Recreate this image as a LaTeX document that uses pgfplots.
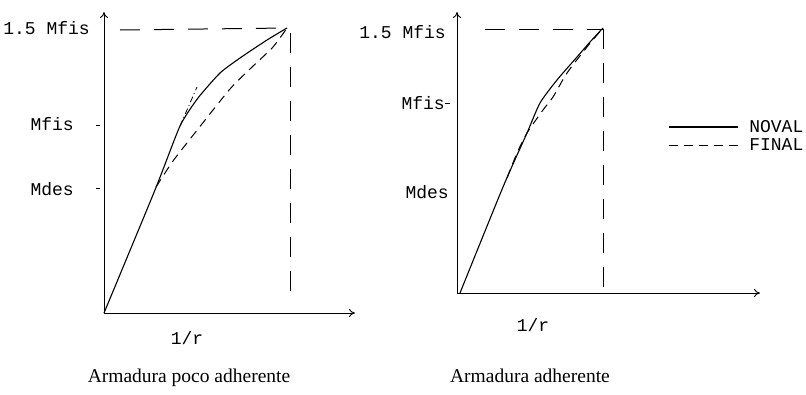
\documentclass[border=0pt]{standalone}
\usepackage{pgfplots}
\pgfplotsset{compat=1.18}
\usetikzlibrary{arrows.meta}
\usepackage{fontspec}
\setmainfont{Liberation Serif}
\setmonofont{Liberation Mono}
\begin{document}
\begin{tikzpicture}
\path[use as bounding box] (0pt,0pt) rectangle (806pt,-394pt);
\pgfplotsset{
  myax/.style={
    anchor=south west, x=1pt, y=1pt, xmin=0, ymin=0,
    axis lines=left, clip=false,
    axis line style={line width=0.9pt, -{To[length=6pt,width=8pt]}},
    xtick=\empty, ytick=\empty,
  },
  sol/.style={black, line width=1.1pt},
  das/.style={black, line width=1.0pt, dash pattern=on 9pt off 6pt},
  ref/.style={black, line width=1.0pt, dash pattern=on 20pt off 14pt},
  tk/.style={black, line width=1.0pt},
}
% Left panel
\begin{axis}[myax, at={(104pt,-313pt)}, xmax=251, ymax=301]
\addplot[sol, smooth, tension=0.35] coordinates {(0,0)(51,123)(76,187)(94,215)(116,240)(136,255)(163,273)(183,285)};
\addplot[das, smooth, tension=0.4] coordinates {(52,126)(69,152)(94,184)(126,224)(146,244)(169,266)(183,285)};
\addplot[black, line width=0.8pt, dash pattern=on 6pt off 3pt on 1pt off 3pt] coordinates {(76,187)(93,226)};
\addplot[ref] coordinates {(16,283)(183,285)};
\addplot[ref] coordinates {(186,280)(186,10)};
\addplot[tk] coordinates {(-8,188)(-4,188)};
\addplot[tk] coordinates {(-8,125)(-4,125)};
\end{axis}
% Right panel
\begin{axis}[myax, at={(457pt,-293pt)}, xmax=303, ymax=281,
  legend style={at={(axis cs:211,173)}, anchor=north west, draw=none, fill=none,
    font=\ttfamily\fontsize{18}{18}\selectfont, row sep=5pt, inner sep=0pt,
    nodes={inner sep=0pt},
    /tikz/every odd column/.append style={column sep=11pt}},
  legend cell align=left,
  legend image code/.code={\draw[#1] (0pt,0pt) -- (69pt,0pt);}]
\addplot[sol, smooth, tension=0.4] coordinates {(3,0)(46,106)(70,160)(83,190)(100,213)(120,236)(133,251)(146,265)};
\addplot[das, smooth, tension=0.4] coordinates {(50,115)(60,140)(70,160)(86,183)(96,196)(110,220)(130,246)(146,265)};
\addplot[ref] coordinates {(28,264)(146,264)};
\addplot[ref] coordinates {(146,264)(146,-7)};
\addplot[tk] coordinates {(-12,190)(-7,190)};
\addlegendimage{sol}
\addlegendentry{NOVAL}
\addlegendimage{black, line width=1.0pt, dash pattern=on 10pt off 8pt}
\addlegendentry{FINAL}
\end{axis}
% labels
\begin{scope}[every node/.style={inner sep=0pt, font=\ttfamily\fontsize{18}{18}\selectfont}]
\node[anchor=east] at (90pt,-28pt) {1.5 Mfis};
\node[anchor=east] at (74pt,-124pt) {Mfis};
\node[anchor=east] at (74pt,-189pt) {Mdes};
\node at (187pt,-338pt) {1/r};
\node[anchor=east] at (446pt,-32pt) {1.5 Mfis};
\node[anchor=east] at (445pt,-103pt) {Mfis};
\node[anchor=east] at (449pt,-192pt) {Mdes};
\node at (533pt,-325pt) {1/r};
\end{scope}
\node[inner sep=0pt, font=\fontsize{19.5}{20}\selectfont] at (189pt,-378pt) {Armadura poco adherente};
\node[inner sep=0pt, font=\fontsize{19.5}{20}\selectfont] at (530pt,-376pt) {Armadura adherente};
\end{tikzpicture}
\end{document}
